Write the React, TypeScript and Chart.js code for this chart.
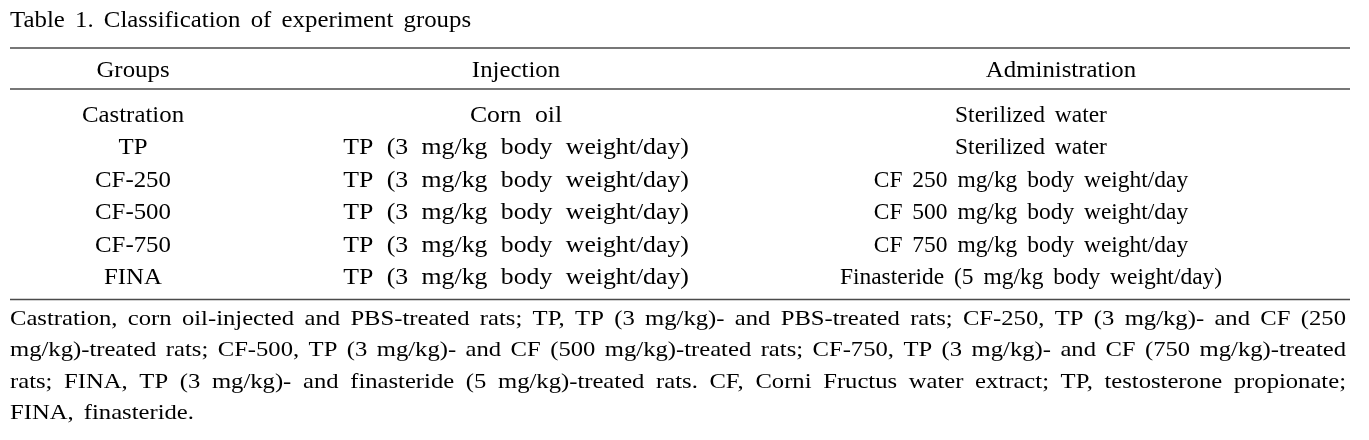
import React, { useEffect, useRef } from "react";
import { Chart, registerables } from "chart.js";

Chart.register(...registerables);

// ---------- content ----------
const tableTitle = "Table 1. Classification of experiment groups";
const columnHeaders = ["Groups", "Injection", "Administration"];
const groups = ["Castration", "TP", "CF-250", "CF-500", "CF-750", "FINA"];
const injections = [
  "Corn oil",
  "TP (3 mg/kg body weight/day)",
  "TP (3 mg/kg body weight/day)",
  "TP (3 mg/kg body weight/day)",
  "TP (3 mg/kg body weight/day)",
  "TP (3 mg/kg body weight/day)",
];
const administrations = [
  "Sterilized water",
  "Sterilized water",
  "CF 250 mg/kg body weight/day",
  "CF 500 mg/kg body weight/day",
  "CF 750 mg/kg body weight/day",
  "Finasteride (5 mg/kg body weight/day)",
];
const footnoteLines = [
  "Castration, corn oil-injected and PBS-treated rats; TP, TP (3 mg/kg)- and PBS-treated rats; CF-250, TP (3 mg/kg)- and CF (250",
  "mg/kg)-treated rats; CF-500, TP (3 mg/kg)- and CF (500 mg/kg)-treated rats; CF-750, TP (3 mg/kg)- and CF (750 mg/kg)-treated",
  "rats; FINA, TP (3 mg/kg)- and finasteride (5 mg/kg)-treated rats. CF, Corni Fructus water extract; TP, testosterone propionate;",
  "FINA, finasteride.",
];

// ---------- layout / style ----------
const W = 1369;
const H = 440;
const FONT_FAMILY = '"Liberation Serif", "Times New Roman", serif';
const layout = {
  colCenters: [133, 516, 1031],
  headerCenters: [133, 516, 1061],
  left: 10,
  right: 1350,
  textRight: 1346,
  titleY: 27,
  ruleTop: 48,
  headerY: 77,
  ruleMid: 89,
  firstRowY: 122,
  rowStep: 32.4,
  ruleBottom: 299.5,
  footY: 325,
  footStep: 31.4,
};
const style = {
  textColor: "#000000",
  ruleColor: "#4a4a4a",
  ruleWidth: 1.6,
  fontSize: 23,
  footFontSize: 22,
  titleStretch: 1.08,
  colStretch: [1.08, 1.12, 1.02],
  colExtraGap: [7, 7, 4],
  headerExtraGap: 7,
  footStretch: 1.12,
  titleExtraGap: 4,
  footExtraGap: 4,
};

function drawWords(
  ctx: CanvasRenderingContext2D,
  text: string,
  x: number,
  y: number,
  align: "left" | "center" | "justify",
  size: number,
  sx: number,
  extraGap: number,
  justifyRight?: number
) {
  ctx.font = `${size}px ${FONT_FAMILY}`;
  const words = text.split(" ");
  const widths = words.map((w) => ctx.measureText(w).width * sx);
  const sum = widths.reduce((a, b) => a + b, 0);
  let gap = ctx.measureText(" ").width * sx + extraGap;
  if (align === "justify" && justifyRight !== undefined && words.length > 1) {
    gap = (justifyRight - x - sum) / (words.length - 1);
  }
  const total = sum + gap * (words.length - 1);
  let cx = align === "center" ? x - total / 2 : x;
  ctx.textAlign = "left";
  ctx.textBaseline = "alphabetic";
  words.forEach((w, i) => {
    ctx.save();
    ctx.translate(cx, y);
    ctx.scale(sx, 1);
    ctx.fillText(w, 0, 0);
    ctx.restore();
    cx += widths[i] + gap;
  });
}

const tablePlugin = {
  id: "tablePlugin",
  beforeDraw(chart: Chart) {
    const ctx = chart.ctx;
    ctx.save();
    ctx.fillStyle = "#ffffff";
    ctx.fillRect(0, 0, chart.width, chart.height);
    ctx.restore();
  },
  afterDraw(chart: Chart) {
    const ctx = chart.ctx;
    const xs = chart.scales.x;
    const ys = chart.scales.y;
    const px = (v: number) => xs.getPixelForValue(v);
    const py = (v: number) => ys.getPixelForValue(v);
    ctx.save();

    // rules
    ctx.strokeStyle = style.ruleColor;
    ctx.lineWidth = style.ruleWidth;
    [layout.ruleTop, layout.ruleMid, layout.ruleBottom].forEach((yy) => {
      ctx.beginPath();
      ctx.moveTo(px(layout.left), py(yy));
      ctx.lineTo(px(layout.right), py(yy));
      ctx.stroke();
    });

    ctx.fillStyle = style.textColor;

    // title
    drawWords(ctx, tableTitle, px(layout.left), py(layout.titleY), "left",
      style.fontSize, style.titleStretch, style.titleExtraGap);

    // headers
    columnHeaders.forEach((h, c) => {
      drawWords(ctx, h, px(layout.headerCenters[c]), py(layout.headerY), "center",
        style.fontSize, style.titleStretch, style.headerExtraGap);
    });

    // body rows
    const columns = [groups, injections, administrations];
    groups.forEach((_, r) => {
      const yy = py(layout.firstRowY + r * layout.rowStep);
      columns.forEach((col, c) => {
        drawWords(ctx, col[r], px(layout.colCenters[c]), yy, "center",
          style.fontSize, style.colStretch[c], style.colExtraGap[c]);
      });
    });

    // footnote
    footnoteLines.forEach((line, i) => {
      const yy = py(layout.footY + i * layout.footStep);
      const last = i === footnoteLines.length - 1;
      drawWords(ctx, line, px(layout.left), yy, last ? "left" : "justify",
        style.footFontSize, style.footStretch, style.footExtraGap, px(layout.textRight));
    });

    ctx.restore();
  },
};

export default function App() {
  const canvasRef = useRef<HTMLCanvasElement | null>(null);

  useEffect(() => {
    document.body.style.margin = "0";
    const canvas = canvasRef.current;
    if (!canvas) return;
    const chart = new Chart(canvas, {
      type: "scatter",
      data: { datasets: [{ data: [], pointRadius: 0 }] },
      options: {
        responsive: false,
        maintainAspectRatio: false,
        animation: false,
        devicePixelRatio: 1,
        layout: { padding: 0 },
        plugins: { legend: { display: false }, tooltip: { enabled: false } },
        scales: {
          x: { type: "linear", min: 0, max: W, display: false },
          y: { type: "linear", min: 0, max: H, reverse: true, display: false },
        },
      },
      plugins: [tablePlugin],
    });
    return () => chart.destroy();
  }, []);

  return (
    <div style={{ width: W, height: H }}>
      <canvas ref={canvasRef} width={W} height={H} style={{ display: "block" }} />
    </div>
  );
}
